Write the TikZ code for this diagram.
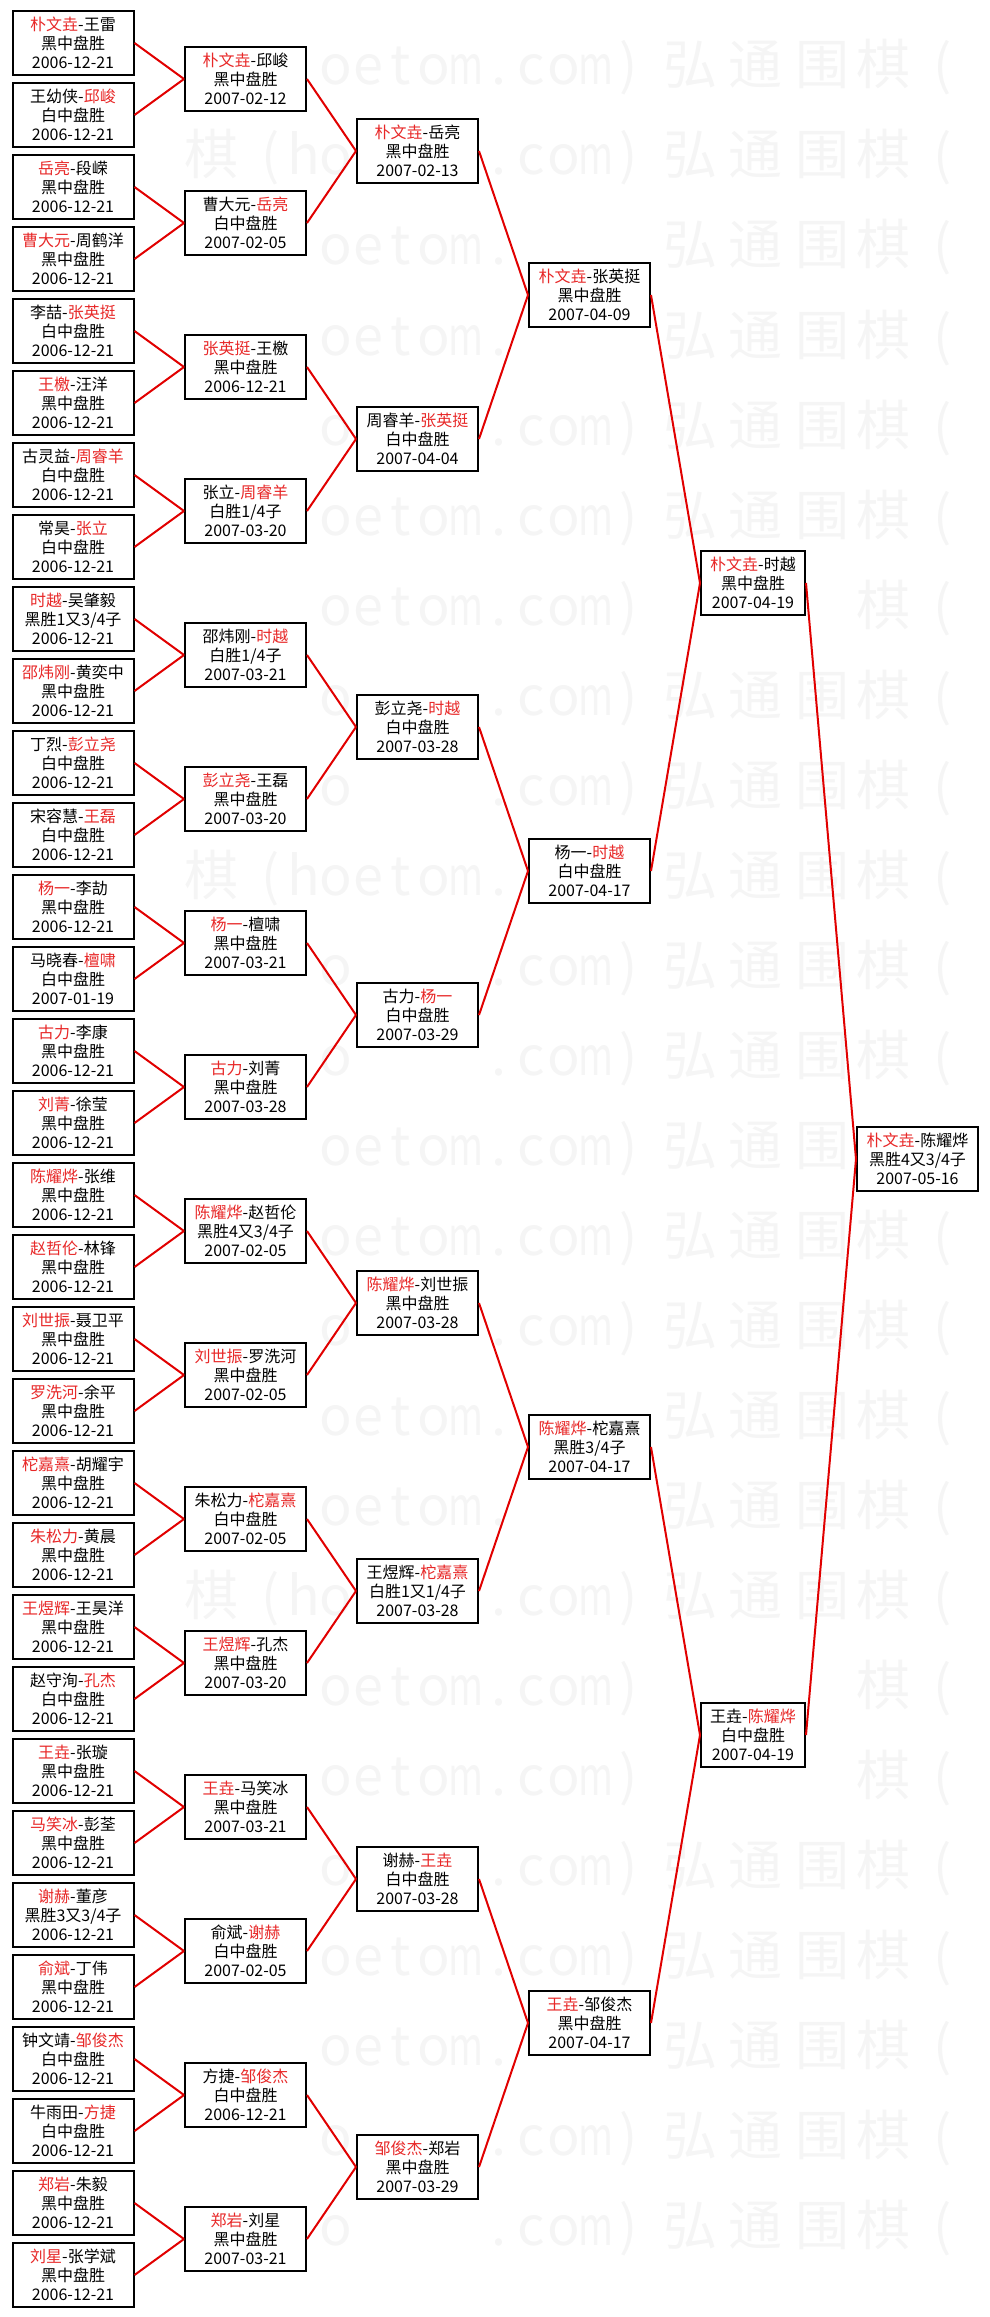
\documentclass[tikz,border=0pt]{standalone}
\usepackage{fontspec}
\usepackage{graphicx}
\setmainfont{Noto Sans CJK SC}
\definecolor{winred}{RGB}{232,40,40}
\definecolor{linered}{RGB}{225,0,0}
\definecolor{wmgray}{RGB}{245,245,245}
\tikzset{
game/.style={draw=black, line width=2pt, fill=white, align=center,
    minimum width=121pt, minimum height=64pt, inner sep=1pt,
    font=\fontsize{16}{19}\selectfont},
narrow/.style={minimum width=104pt},
wmark/.style={text=wmgray, anchor=base, inner sep=0pt,
    font=\fontsize{54}{54}\selectfont},
}
\newcommand{\wn}[1]{\textcolor{winred}{#1}}
\newcommand{\mm}{\scalebox{0.7}[1]{m}}

\begin{document}
\begin{tikzpicture}[x=1pt, y=1pt,
    grow=left,
    every child node/.style={game},
    edge from parent/.style={draw=linered, line width=2pt},
    edge from parent path={(\tikzparentnode.west) -- (\tikzchildnode.east)},
    level 1/.style={level distance=164.5pt, sibling distance=1152pt},
    level 2/.style={level distance=163.5pt, sibling distance=576pt},
    level 3/.style={level distance=172pt, sibling distance=288pt},
    level 4/.style={level distance=172pt, sibling distance=144pt},
    level 5/.style={level distance=172.5pt, sibling distance=72pt}
]
    \useasboundingbox (0,0) rectangle (989,-2317);
    % watermark, left out where a box covers it
    \foreach \r in {0,...,25}
        \foreach \s in {18,690}
            \foreach \ch/\dx/\hw [count=\k] in {弘/0/27,通/65/27,围/132/27,棋/193/27,{(}/253/9,h/285.5/15,o/318/15,e/350.5/15,t/383/10,o/415.5/15,\mm/448/16,./480.5/7,c/513/13,o/545.5/15,\mm/578/16,{)}/610.5/9}{
                \pgfmathsetmacro{\wx}{\s+\dx}
                \pgfmathsetmacro{\wy}{65+90*\r}
                \pgfmathsetmacro{\dtwo}{mod(\wy+1440-79,144)}
                \pgfmathsetmacro{\dtwo}{min(\dtwo,144-\dtwo)}
                \pgfmathsetmacro{\dthree}{mod(\wy+2880-151,288)}
                \pgfmathsetmacro{\dthree}{min(\dthree,288-\dthree)}
                \pgfmathsetmacro{\dfour}{mod(\wy+5760-295,576)}
                \pgfmathsetmacro{\dfour}{min(\dfour,576-\dfour)}
                \pgfmathsetmacro{\dfive}{mod(\wy+11520-583,1152)}
                \pgfmathsetmacro{\dfive}{min(\dfive,1152-\dfive)}
                \pgfmathtruncatemacro{\hide}{(\wx+\hw>989) || (\wy+27>2317)
                    || ((\wx+\hw>12) && (\wx-\hw<134))
                    || ((\wx+\hw>184) && (\wx-\hw<307) && (\dtwo<60))
                    || ((\wx+\hw>356) && (\wx-\hw<479) && (\dthree<60))
                    || ((\wx+\hw>528) && (\wx-\hw<651) && (\dfour<60))
                    || ((\wx+\hw>700) && (\wx-\hw<806) && (\dfive<60))
                    || ((\wx+\hw>856) && (\wx-\hw<979) && (abs(\wy-1159)<60))}
                \ifnum\hide=0
                    \node[wmark] (wm-\r-\s-\k) at (\wx,-\wy-20) {\ch};
                \fi
            }
    \node[game] (final) at (917.5,-1159) {\wn{朴文垚}-陈耀烨\\黑胜4又3/4子\\2007-05-16}
    child {node[narrow] {\wn{朴文垚}-时越\\黑中盘胜\\2007-04-19}
        child {node {\wn{朴文垚}-张英挺\\黑中盘胜\\2007-04-09}
            child {node {\wn{朴文垚}-岳亮\\黑中盘胜\\2007-02-13}
                child {node {\wn{朴文垚}-邱峻\\黑中盘胜\\2007-02-12}
                    child {node {\wn{朴文垚}-王雷\\黑中盘胜\\2006-12-21}}
                    child {node {王幼侠-\wn{邱峻}\\白中盘胜\\2006-12-21}}
                }
                child {node {曹大元-\wn{岳亮}\\白中盘胜\\2007-02-05}
                    child {node {\wn{岳亮}-段嵘\\黑中盘胜\\2006-12-21}}
                    child {node {\wn{曹大元}-周鹤洋\\黑中盘胜\\2006-12-21}}
                }
            }
            child {node {周睿羊-\wn{张英挺}\\白中盘胜\\2007-04-04}
                child {node {\wn{张英挺}-王檄\\黑中盘胜\\2006-12-21}
                    child {node {李喆-\wn{张英挺}\\白中盘胜\\2006-12-21}}
                    child {node {\wn{王檄}-汪洋\\黑中盘胜\\2006-12-21}}
                }
                child {node {张立-\wn{周睿羊}\\白胜1/4子\\2007-03-20}
                    child {node {古灵益-\wn{周睿羊}\\白中盘胜\\2006-12-21}}
                    child {node {常昊-\wn{张立}\\白中盘胜\\2006-12-21}}
                }
            }
        }
        child {node {杨一-\wn{时越}\\白中盘胜\\2007-04-17}
            child {node {彭立尧-\wn{时越}\\白中盘胜\\2007-03-28}
                child {node {邵炜刚-\wn{时越}\\白胜1/4子\\2007-03-21}
                    child {node {\wn{时越}-吴肇毅\\黑胜1又3/4子\\2006-12-21}}
                    child {node {\wn{邵炜刚}-黄奕中\\黑中盘胜\\2006-12-21}}
                }
                child {node {\wn{彭立尧}-王磊\\黑中盘胜\\2007-03-20}
                    child {node {丁烈-\wn{彭立尧}\\白中盘胜\\2006-12-21}}
                    child {node {宋容慧-\wn{王磊}\\白中盘胜\\2006-12-21}}
                }
            }
            child {node {古力-\wn{杨一}\\白中盘胜\\2007-03-29}
                child {node {\wn{杨一}-檀啸\\黑中盘胜\\2007-03-21}
                    child {node {\wn{杨一}-李劼\\黑中盘胜\\2006-12-21}}
                    child {node {马晓春-\wn{檀啸}\\白中盘胜\\2007-01-19}}
                }
                child {node {\wn{古力}-刘菁\\黑中盘胜\\2007-03-28}
                    child {node {\wn{古力}-李康\\黑中盘胜\\2006-12-21}}
                    child {node {\wn{刘菁}-徐莹\\黑中盘胜\\2006-12-21}}
                }
            }
        }
    }
    child {node[narrow] {王垚-\wn{陈耀烨}\\白中盘胜\\2007-04-19}
        child {node {\wn{陈耀烨}-柁嘉熹\\黑胜3/4子\\2007-04-17}
            child {node {\wn{陈耀烨}-刘世振\\黑中盘胜\\2007-03-28}
                child {node {\wn{陈耀烨}-赵哲伦\\黑胜4又3/4子\\2007-02-05}
                    child {node {\wn{陈耀烨}-张维\\黑中盘胜\\2006-12-21}}
                    child {node {\wn{赵哲伦}-林锋\\黑中盘胜\\2006-12-21}}
                }
                child {node {\wn{刘世振}-罗洗河\\黑中盘胜\\2007-02-05}
                    child {node {\wn{刘世振}-聂卫平\\黑中盘胜\\2006-12-21}}
                    child {node {\wn{罗洗河}-余平\\黑中盘胜\\2006-12-21}}
                }
            }
            child {node {王煜辉-\wn{柁嘉熹}\\白胜1又1/4子\\2007-03-28}
                child {node {朱松力-\wn{柁嘉熹}\\白中盘胜\\2007-02-05}
                    child {node {\wn{柁嘉熹}-胡耀宇\\黑中盘胜\\2006-12-21}}
                    child {node {\wn{朱松力}-黄晨\\黑中盘胜\\2006-12-21}}
                }
                child {node {\wn{王煜辉}-孔杰\\黑中盘胜\\2007-03-20}
                    child {node {\wn{王煜辉}-王昊洋\\黑中盘胜\\2006-12-21}}
                    child {node {赵守洵-\wn{孔杰}\\白中盘胜\\2006-12-21}}
                }
            }
        }
        child {node {\wn{王垚}-邹俊杰\\黑中盘胜\\2007-04-17}
            child {node {谢赫-\wn{王垚}\\白中盘胜\\2007-03-28}
                child {node {\wn{王垚}-马笑冰\\黑中盘胜\\2007-03-21}
                    child {node {\wn{王垚}-张璇\\黑中盘胜\\2006-12-21}}
                    child {node {\wn{马笑冰}-彭荃\\黑中盘胜\\2006-12-21}}
                }
                child {node {俞斌-\wn{谢赫}\\白中盘胜\\2007-02-05}
                    child {node {\wn{谢赫}-董彦\\黑胜3又3/4子\\2006-12-21}}
                    child {node {\wn{俞斌}-丁伟\\黑中盘胜\\2006-12-21}}
                }
            }
            child {node {\wn{邹俊杰}-郑岩\\黑中盘胜\\2007-03-29}
                child {node {方捷-\wn{邹俊杰}\\白中盘胜\\2006-12-21}
                    child {node {钟文靖-\wn{邹俊杰}\\白中盘胜\\2006-12-21}}
                    child {node {牛雨田-\wn{方捷}\\白中盘胜\\2006-12-21}}
                }
                child {node {\wn{郑岩}-刘星\\黑中盘胜\\2007-03-21}
                    child {node {\wn{郑岩}-朱毅\\黑中盘胜\\2006-12-21}}
                    child {node {\wn{刘星}-张学斌\\黑中盘胜\\2006-12-21}}
                }
            }
        }
    };
\end{tikzpicture}
\end{document}
